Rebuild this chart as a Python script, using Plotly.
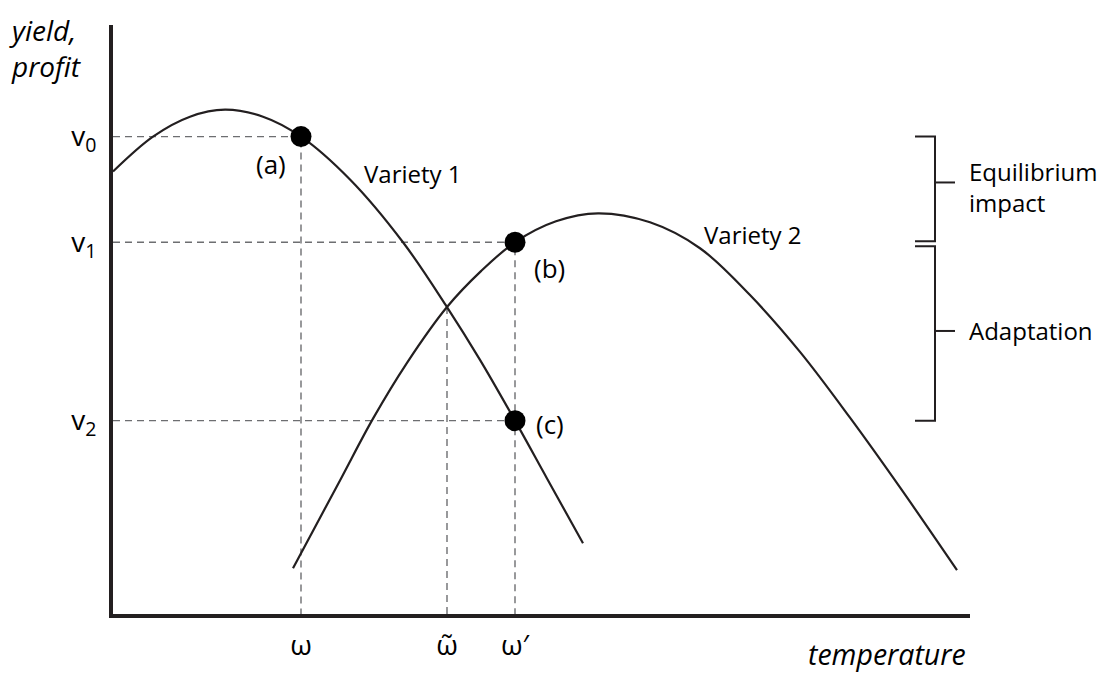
import plotly.graph_objects as go

# Yield/profit curves of two crop varieties against temperature (arbitrary units)
variety1_temp = [0.0, 4.0, 7.7, 11.2, 15.0, 18.8, 23.7, 29.0, 33.4, 36.7, 40.2, 43.4, 47.0]
variety1_yield = [44.4, 47.9, 49.9, 50.6, 49.9, 47.9, 43.6, 37.3, 30.8, 25.5, 19.4, 13.6, 7.1]

variety2_temp = [18.0, 22.7, 26.0, 29.4, 33.4, 36.8, 40.2, 44.3, 48.5, 53.7, 58.7, 63.7, 68.7, 73.7, 78.7, 84.4]
variety2_yield = [4.6, 13.4, 19.6, 25.2, 30.8, 34.4, 37.3, 39.4, 40.2, 39.3, 36.7, 32.0, 26.3, 19.7, 12.7, 4.4]

# Reference temperatures and values
omega, omega_tilde, omega_prime = 18.8, 33.4, 40.2
v0, v1, v2 = 47.9, 37.3, 19.4
crossing_yield = 30.8

x_tick_vals = [omega, omega_tilde, omega_prime]
x_tick_text = ["ω", "ω̃", "ω′"]
y_tick_vals = [v0, v1, v2]
y_tick_text = ["v<sub>0</sub>", "v<sub>1</sub>", "v<sub>2</sub>"]

# Marked points (a), (b), (c)
point_labels = ["(a)", "(b)", "(c)"]
point_temp = [omega, omega_prime, omega_prime]
point_yield = [v0, v1, v2]

# Bracket geometry on the right
bracket_x = 82.2
bracket_arm = 2.0
equilibrium_span = (v0, 37.4, 43.3)
adaptation_span = (36.9, v2, 28.4)

INK = "#231f20"
DASH = "#6d6e71"
FONT = "Open Sans, Noto Sans, sans-serif"

fig = go.Figure()

# dashed guide lines
guides = [
    ([0, omega, omega], [v0, v0, 0]),
    ([0, omega_prime, omega_prime], [v1, v1, 0]),
    ([0, omega_prime], [v2, v2]),
    ([omega_tilde, omega_tilde], [crossing_yield, 0]),
]
for gx, gy in guides:
    fig.add_trace(go.Scatter(
        x=gx, y=gy, mode="lines",
        line=dict(color=DASH, width=1.4, dash="7px,5px"),
        hoverinfo="skip", showlegend=False,
    ))

# the two variety curves
for tx, ty in [(variety1_temp, variety1_yield), (variety2_temp, variety2_yield)]:
    fig.add_trace(go.Scatter(
        x=tx, y=ty, mode="lines",
        line=dict(color=INK, width=2.2, shape="spline", smoothing=1.0, simplify=False),
        showlegend=False,
    ))

# marked points
fig.add_trace(go.Scatter(
    x=point_temp, y=point_yield, mode="markers",
    marker=dict(color="black", size=21),
    showlegend=False,
))

# brackets
for top, bottom, mid in [equilibrium_span, adaptation_span]:
    fig.add_trace(go.Scatter(
        x=[bracket_x - bracket_arm, bracket_x, bracket_x, bracket_x - bracket_arm],
        y=[top, top, bottom, bottom], mode="lines",
        line=dict(color=INK, width=2), showlegend=False, hoverinfo="skip",
    ))
    fig.add_trace(go.Scatter(
        x=[bracket_x, bracket_x + bracket_arm], y=[mid, mid], mode="lines",
        line=dict(color=INK, width=2), showlegend=False, hoverinfo="skip",
    ))

text_font = dict(family=FONT, size=24, color="black")
label_font = dict(family=FONT, size=26, color="black")
annotations = [
    dict(x=point_temp[0], y=point_yield[0], text=point_labels[0], xshift=-30, yshift=-27, font=label_font),
    dict(x=point_temp[1], y=point_yield[1], text=point_labels[1], xshift=34, yshift=-26, font=label_font),
    dict(x=point_temp[2], y=point_yield[2], text=point_labels[2], xshift=35, yshift=-3, font=label_font),
    dict(x=24.9, y=44.2, text="Variety 1", xanchor="left"),
    dict(x=58.9, y=38.1, text="Variety 2", xanchor="left"),
    dict(x=85.4, y=equilibrium_span[2] - 0.5, text="Equilibrium<br>impact", xanchor="left", align="left"),
    dict(x=85.4, y=adaptation_span[2], text="Adaptation", xanchor="left"),
]
for a in annotations:
    a.setdefault("xanchor", "center")
    a.setdefault("font", text_font)
    fig.add_annotation(xref="x", yref="y", showarrow=False, **a)

title_font = dict(family=FONT, size=28, color="black", style="italic")
fig.add_annotation(xref="paper", yref="paper", x=-0.124, y=0.961, xanchor="left", yanchor="middle",
                   text="yield,<br>profit", showarrow=False, align="left", font=title_font)
fig.add_annotation(xref="paper", yref="paper", x=0.998, y=-0.068, xanchor="right", yanchor="middle",
                   text="temperature", showarrow=False, font=dict(title_font, size=28.5))

fig.update_layout(
    width=1107, height=675,
    margin=dict(l=113, r=137, t=25, b=59),
    paper_bgcolor="white", plot_bgcolor="white",
    xaxis=dict(range=[0, 85.7], showgrid=False, zeroline=False,
               showline=True, linewidth=4, linecolor=INK,
               tickmode="array", tickvals=x_tick_vals, ticktext=x_tick_text,
               ticks="", ticklabelstandoff=3,
               tickfont=dict(family=FONT, size=28, color="black")),
    yaxis=dict(range=[0, 59.1], showgrid=False, zeroline=False,
               showline=True, linewidth=4, linecolor=INK,
               tickmode="array", tickvals=y_tick_vals, ticktext=y_tick_text,
               ticks="", ticklabelstandoff=7,
               tickfont=dict(family=FONT, size=28, color="black")),
)

fig.write_html("out.html")
